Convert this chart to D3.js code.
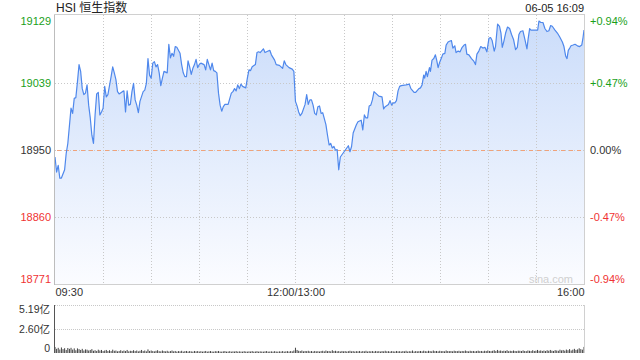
<!DOCTYPE html>
<html><head><meta charset="utf-8">
<script src="https://cdn.jsdelivr.net/npm/d3@7"></script>
<style>
html,body{margin:0;padding:0;background:#fff;}
svg{display:block;font-family:"Liberation Sans",Arial,sans-serif;}
</style></head><body>
<svg id="c" width="640" height="360"></svg>
<script>
const title = "HSI 恒生指数";
const stamp = "06-05 16:09";
const prevClose = 18950;
const priceTicks = [19129, 19039, 18950, 18860, 18771];
const pctTicks = ["+0.94%", "+0.47%", "0.00%", "-0.47%", "-0.94%"];
const timeTickMins = [0, 150, 330];
const timeTickLabels = ["09:30", "12:00/13:00", "16:00"];
const volTicks = [519, 260, 0];
const volTickLabels = ["5.19亿", "2.60亿", "0"];
// minutes after 09:30 on the trading clock (lunch break removed)
const mins = [0,1,2,3,4,6,7,8,10,11,12,13,14,15,16,17,18,19,20,21,22,23,24,25,26,27,28,29,30,31,32,33,35,36,37,38,39,40,42,43,44,45,46,47,48,49,50,51,52,53,55,56,57,58,59,60,61,62,63,64,65,66,67,68,70,71,72,73,74,75,76,78,79,80,81,82,83,84,85,86,87,88,89,90,91,93,94,95,96,97,98,99,100,101,102,103,104,105,106,108,110,111,112,113,114,115,116,117,119,120,121,122,123,125,126,127,128,130,131,132,134,135,137,138,140,142,143,144,146,148,149,150,151,152,153,154,156,157,158,159,160,161,162,163,164,165,166,
167,169,170,171,172,173,174,175,176,177,178,179,181,182,183,184,185,186,188,189,190,191,192,193,194,195,196,197,198,199,200,202,204,205,206,208,209,210,211,212,213,214,215,216,219,221,222,224,225,227,228,229,230,230.6,231.5,232.3,233.6,234.2,235.2,236.3,237.3,238.1,239,239.8,241.1,241.9,243.2,244,245.2,246.1,247.3,248.2,249.4,250.2,251.5,252.7,254,255.2,256.1,256.9,258.2,259.8,261.1,262.3,263.2,264.4,265.6,266.9,268.2,269.4,270.7,271.7,272.7,274,274.8,276.1,277.3,278.2,279,280,281.1,282.3,283.6,284.8,286.1,287.3,288.4,289.4,290.4,291.9,293.2,294.4,295.2,296.1,296.9,301.1,301.9,303.1,304.4,305.6,306.9,308.1,309.2,310.2,311.9,313.4,314.8,316.5,317.5,318.6,319.4,320.2,321.1,321.9,323.2,324.4,325.9,327.3,328.6,329.4,330];
const prices = [18940,18920,18929,18912,18912,18923,18945,18958,19005,18998,19018,19019,19040,19063,19054,19031,19023,19025,19036,19009,18992,18969,18958,18996,19024,19026,18996,19000,19005,19034,19020,19023,19047,19060,19052,19043,19027,19024,19027,19028,19000,19028,19009,19010,19027,19038,19016,19009,18999,19014,19027,19029,19038,19071,19049,19045,19065,19067,19060,19063,19052,19035,19045,19054,19052,19090,19072,19078,19074,19087,19086,19078,19063,19052,19047,19047,19068,19060,19050,19058,19063,19070,19059,19063,19065,19063,19056,19070,19063,19056,19065,19055,19054,19052,19025,19009,19001,19007,19010,19010,19025,19027,19031,19028,19036,19031,19037,19034,19032,19045,19056,19055,19060,19063,19079,19080,19079,19084,19079,19080,19082,19076,19069,19063,19062,19058,19068,19063,19059,19057,19054,19014,19008,19000,18995,18998,19010,19023,19010,19016,19016,19009,18998,18996,19007,19008,18998,
18999,18983,18969,18956,18958,18952,18954,18949,18950,18923,18940,18943,18949,18952,18955,18947,18954,18972,18983,18987,18988,18989,18976,18996,18992,18992,19008,19009,19016,19027,19025,19021,19020,19004,19007,19010,19015,19009,19012,19012,19015,19028,19034,19035,19036,19037,19031,19026,19026,19031,19032,19036,19049,19045,19054,19047,19059,19054,19069,19071,19076,19069,19059,19065,19072,19077,19078,19089,19093,19094,19095,19085,19088,19079,19081,19080,19086,19089,19090,19077,19076,19071,19068,19063,19077,19081,19087,19085,19086,19080,19098,19099,19095,19081,19087,19117,19114,19105,19086,19094,19105,19113,19111,19103,19096,19083,19086,19103,19107,19108,19096,19084,19098,19111,19109,19109,19121,19119,19119,19111,19107,19108,19115,19114,19109,19105,19100,19093,19087,19074,19071,19082,19085,19088,19089,19090,19088,19087,19089,19099,19109];
// per-minute turnover, in 0.01亿
const volumes = [65,45,56,38,60,42,52,33,54,45,56,37,50,30,50,42,33,45,27,39,36,27,33,42,24,30,22,36,27,33,
21,27,33,22,30,21,36,24,27,18,22,30,20,27,21,33,18,24,22,30,21,27,18,24,33,21,27,18,39,22,
27,21,18,24,30,20,18,27,21,18,24,16,21,27,18,22,15,21,18,24,15,20,22,16,21,18,15,22,18,21,
16,20,15,18,22,15,18,21,16,15,20,18,22,16,15,18,21,15,16,20,15,18,16,21,15,18,16,15,20,16,
15,18,16,21,15,16,20,15,18,16,15,18,21,15,16,18,15,20,16,15,18,16,21,15,18,20,16,21,18,27,
57,33,24,21,27,18,22,20,24,18,21,16,22,18,20,16,21,24,18,27,20,22,18,30,21,24,18,21,16,22,
18,21,16,20,24,18,21,16,20,18,22,16,21,18,24,16,20,18,21,16,22,18,20,16,21,18,24,18,20,16,
21,18,16,22,18,20,16,21,18,24,16,20,18,27,16,21,18,20,22,18,25,20,18,24,21,18,27,20,22,18,
24,20,21,18,27,21,20,22,18,25,21,20,24,18,22,20,27,21,18,24,20,22,18,21,25,20,22,18,24,21,
27,22,20,24,30,21,33,24,27,21,25,22,30,20,24,21,27,22,20,25,24,21,28,22,20,27,24,21,30,22,
25,33,24,28,22,27,21,30,24,33,25,22,31,27,24,36,28,33,25,37,30,42,27,36,45,33,39,51,42,36,66];

const svg = d3.select("#c");
const X0 = 55, X1 = 584, Y0 = 15, Y1 = 284, V0 = 305, V1 = 353;
const x = d3.scaleLinear().domain([0, 330]).range([X0, X1]);
const y = d3.scaleLinear().domain([18771, 19129]).range([Y1, Y0]);
const yv = d3.scaleLinear().domain([0, 519]).range([V1, V0]);
const green = "#1a9f1a", red = "#f03333", ink = "#333";
const colorFor = v => v > prevClose ? green : (v < prevClose ? red : ink);

// gradient
const defs = svg.append("defs");
const g = defs.append("linearGradient").attr("id", "fill").attr("gradientUnits", "userSpaceOnUse")
  .attr("x1", 0).attr("y1", Y0).attr("x2", 0).attr("y2", Y1);
g.append("stop").attr("offset", 0).attr("stop-color", "#cadcfa");
g.append("stop").attr("offset", 1).attr("stop-color", "#fbfcff");

const pts = mins.map((m, i) => [m, prices[i]]);
svg.append("path").datum(pts)
  .attr("fill", "url(#fill)")
  .attr("d", d3.area().x(d => x(d[0])).y0(Y1).y1(d => y(d[1])));

// vertical grid every 30 minutes
const vgrid = d3.range(30, 330, 30);
svg.append("g").selectAll("line").data(vgrid).join("line")
  .attr("x1", d => Math.round(x(d)) + 0.5).attr("x2", d => Math.round(x(d)) + 0.5)
  .attr("y1", Y0).attr("y2", Y1)
  .attr("stroke", "#c8c8c8").attr("stroke-dasharray", "1,2");
// horizontal grid
svg.append("g").selectAll("line").data(priceTicks.slice(1, 4)).join("line")
  .attr("x1", X0).attr("x2", X1)
  .attr("y1", d => Math.round(y(d)) + 0.5).attr("y2", d => Math.round(y(d)) + 0.5)
  .attr("stroke", "#c8c8c8").attr("stroke-dasharray", "1,2");
svg.append("line").attr("x1", X0 + 2).attr("x2", X1)
  .attr("y1", Math.round(y(prevClose)) + 0.5).attr("y2", Math.round(y(prevClose)) + 0.5)
  .attr("stroke", "#f0a27a").attr("stroke-dasharray", "4,4");

// price line
svg.append("path").datum(pts)
  .attr("fill", "none").attr("stroke", "#4f88ec").attr("stroke-width", 1.2)
  .attr("stroke-linejoin", "round")
  .attr("d", d3.line().x(d => x(d[0])).y(d => y(d[1])));

// frame
svg.append("rect").attr("x", X0 - 0.5).attr("y", Y0 - 0.5).attr("width", X1 - X0 + 1).attr("height", Y1 - Y0 + 1)
  .attr("fill", "none").attr("stroke", "#d0d0d0");
svg.append("line").attr("x1", X0 - 0.5).attr("x2", X0 - 0.5).attr("y1", Y0).attr("y2", Y1 + 1).attr("stroke", "#bdbdbd");

// axes
const la = svg.append("g").attr("transform", `translate(${X0 - 4},0)`)
  .call(d3.axisLeft(y).tickValues(priceTicks).tickSize(0).tickPadding(0).tickFormat(d3.format("d")));
la.select(".domain").remove();
la.selectAll("text").attr("fill", d => colorFor(d)).style("font-size", "11px")
  .attr("dy", (d, i) => i === 0 ? "0.85em" : (i === priceTicks.length - 1 ? "-0.15em" : "0.32em"));

const ra = svg.append("g").attr("transform", `translate(${X1 + 6},0)`)
  .call(d3.axisRight(y).tickValues(priceTicks).tickSize(0).tickPadding(0).tickFormat((d, i) => pctTicks[i]));
ra.select(".domain").remove();
ra.selectAll("text").attr("fill", d => colorFor(d)).style("font-size", "11px")
  .attr("dy", (d, i) => i === 0 ? "0.85em" : (i === priceTicks.length - 1 ? "-0.15em" : "0.32em"));

const ba = svg.append("g").attr("transform", `translate(0,${Y1 + 3})`)
  .call(d3.axisBottom(x).tickValues(timeTickMins).tickSize(0).tickPadding(0).tickFormat((d, i) => timeTickLabels[i]));
ba.select(".domain").remove();
ba.selectAll("text").attr("fill", ink).style("font-size", "11px")
  .attr("text-anchor", (d, i) => i === 0 ? "start" : (i === 2 ? "end" : "middle"))
  .attr("dy", "0.8em");

// title
svg.append("text").attr("x", 56).attr("y", 12).attr("fill", "#222")
  .style("font-family", "'Liberation Sans','Noto Sans CJK SC',sans-serif").style("font-size", "12px").text(title);
svg.append("text").attr("x", X1).attr("y", 11.5).attr("text-anchor", "end").attr("fill", "#222")
  .style("font-size", "11px").text(stamp);
svg.append("text").attr("x", 573).attr("y", 282.5).attr("text-anchor", "end").attr("fill", "#d0d0d0")
  .style("font-size", "11px").text("sina.com");

// volume panel
svg.append("g").selectAll("line").data(volTicks.slice(0, 2)).join("line")
  .attr("x1", X0).attr("x2", X1)
  .attr("y1", d => Math.round(yv(d)) + 0.5).attr("y2", d => Math.round(yv(d)) + 0.5)
  .attr("stroke", "#c8c8c8").attr("stroke-dasharray", "1,1");
svg.append("g").selectAll("rect").data(volumes).join("rect")
  .attr("x", (d, i) => x(i) - 0.5).attr("width", 1)
  .attr("y", d => yv(d)).attr("height", d => V1 - yv(d))
  .attr("fill", "#444");
svg.append("line").attr("x1", X1 + 0.5).attr("x2", X1 + 0.5).attr("y1", V0).attr("y2", V1).attr("stroke", "#d0d0d0");
svg.append("line").attr("x1", X0 - 0.5).attr("x2", X0 - 0.5).attr("y1", V0).attr("y2", V1).attr("stroke", "#555");

const va = svg.append("g").attr("transform", `translate(${X0 - 5},0)`)
  .call(d3.axisLeft(yv).tickValues(volTicks).tickSize(0).tickPadding(0).tickFormat((d, i) => volTickLabels[i]));
va.select(".domain").remove();
va.selectAll("text").attr("fill", ink).style("font-size", "10.5px")
  .style("font-family", "'Liberation Sans','Noto Sans CJK SC',sans-serif")
  .attr("dy", (d, i) => i === 0 ? "0.75em" : (i === 2 ? "-0.1em" : "0.32em"));
</script>
</body></html>
